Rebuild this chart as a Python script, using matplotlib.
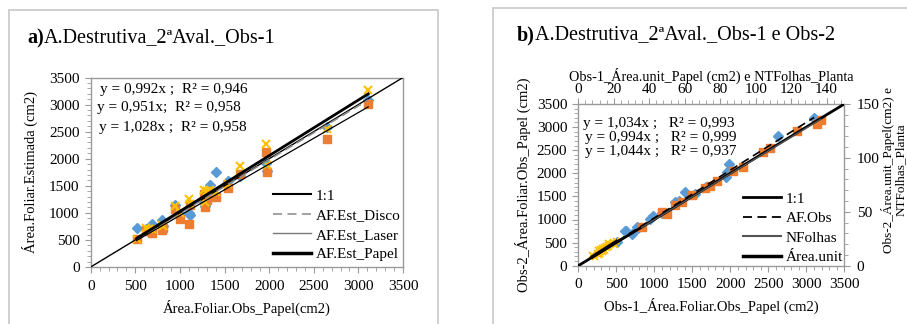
import matplotlib
matplotlib.use("Agg")
import matplotlib.pyplot as plt
from matplotlib.lines import Line2D
from matplotlib.patches import Rectangle
from matplotlib.ticker import MultipleLocator
import numpy as np

plt.rcParams['font.family'] = ['Liberation Serif', 'DejaVu Serif']

# ---------------- Panel a data ----------------
a_obs = [515, 620, 650, 690, 795, 810, 945, 1000, 1105, 1110, 1270, 1285, 1300, 1340, 1400, 1540, 1675, 1965, 1975, 2645, 3110]
a_disco = [726, 700, 640, 790, 860, 760, 1140, 980, 990, 960, 1200, 1130, 1340, 1510, 1760, 1580, 1680, 1920, 1780, 2590, 3090]
a_laser = [517, 690, 660, 620, 690, 720, 1070, 880, 790, 1150, 1340, 1110, 1240, 1300, 1300, 1450, 1710, 2130, 1750, 2360, 3010]
a_papel = [520, 720, 700, 710, 770, 750, 1120, 1000, 1260, 1160, 1430, 1200, 1400, 1420, 1380, 1540, 1870, 2280, 1890, 2540, 3260]
a_slopes = [0.992, 0.951, 1.028]
a_eqs = ["y = 0,992x ;  R² = 0,946", "y = 0,951x;  R² = 0,958", "y = 1,028x ;  R² = 0,958"]
a_labels = ["1:1", "AF.Est_Disco", "AF.Est_Laser", "AF.Est_Papel"]

# ---------------- Panel b data ----------------
b_afobs_x = [515, 615, 628, 702, 768, 790, 943, 987, 1100, 1272, 1330, 1404, 1540, 1675, 1944, 1953, 1987, 2624, 3102]
b_afobs_y = [520, 758, 751, 686, 844, 823, 1005, 1076, 1150, 1386, 1390, 1602, 1560, 1700, 1914, 2035, 2202, 2808, 3191]
b_nf_x = [35.7, 47.0, 49.8, 54.5, 58.3, 63.9, 71.4, 74.3, 78.0, 87.4, 93.0, 104.3, 108.1, 123.2, 134.4, 136.7]
b_nf_y = [36.2, 50.1, 48.0, 56.3, 59.4, 65.6, 72.4, 73.9, 78.9, 87.9, 91.9, 105.8, 108.9, 125.0, 131.5, 135.2]
b_au_x = [8.0, 9.5, 10.5, 11.0, 12.0, 12.5, 13.0, 13.5, 14.0, 14.5, 15.0, 15.5, 16.0, 17.0, 17.5, 18.5, 19.5, 20.5, 21.5, 11.5, 16.5]
b_au_y = [9.5, 8.5, 12.0, 14.5, 11.0, 15.5, 13.0, 16.0, 12.5, 17.5, 14.0, 18.0, 16.5, 19.5, 17.0, 20.5, 22.0, 19.5, 23.0, 10.0, 21.0]
b_slopes = [1.034, 0.994, 1.044]
b_eqs = ["y = 1,034x ;   R² = 0,993", "y = 0,994x ;   R² = 0,999", "y = 1,044x ;   R² = 0,937"]
b_labels = ["1:1", "AF.Obs", "NFolhas", "Área.unit"]

BLUE = "#5B9BD5"
ORANGE = "#ED7D31"
YELLOW = "#FFC000"
SPINE = "#9a9a9a"
FS = 11
LFS = 10.5

W, H = 907, 324
fig = plt.figure(figsize=(W / 100, H / 100), dpi=100)

def fx(px):
    return px / W

def fy(py):
    return 1 - py / H

# panel borders
fig.patches.append(Rectangle((fx(9), fy(340)), fx(438) - fx(9), fy(10) - fy(340),
                             transform=fig.transFigure, fill=False, ec="#c8c8c8", lw=1.2))
fig.patches.append(Rectangle((fx(493), fy(340)), fx(920) - fx(493), fy(8) - fy(340),
                             transform=fig.transFigure, fill=False, ec="#c8c8c8", lw=1.2))

def style_axes(ax, color=SPINE):
    for s in ax.spines.values():
        s.set_color(color)
        s.set_linewidth(1.0)
    ax.tick_params(which='both', direction='out', color=color, labelsize=FS, labelcolor='black', pad=5)
    ax.tick_params(which='major', length=4)
    ax.tick_params(which='minor', length=3)

# ---------------- Panel a ----------------
axa = fig.add_axes([fx(90.7), fy(267), fx(403) - fx(90.7), fy(77.5) - fy(267)])
axa.set_xlim(0, 3500)
axa.set_ylim(0, 3500)
axa.xaxis.set_major_locator(MultipleLocator(500))
axa.yaxis.set_major_locator(MultipleLocator(500))
axa.xaxis.set_minor_locator(MultipleLocator(100))
axa.yaxis.set_minor_locator(MultipleLocator(100))
style_axes(axa)
axa.tick_params(axis='y', pad=4)

axa.plot(a_obs, a_disco, 'D', color=BLUE, ms=5, mec=BLUE, ls='none', zorder=3)
axa.plot(a_obs, a_laser, 's', color=ORANGE, ms=6, mec=ORANGE, ls='none', zorder=4)
axa.plot(a_obs, a_papel, 'x', color=YELLOW, ms=6, mew=1.5, ls='none', zorder=5)

xa = np.array([min(a_obs), max(a_obs)])
axa.plot([0, 3500], [0, 3500], color='black', lw=1.0, zorder=6)
axa.plot(xa, a_slopes[0] * xa, color='#8c8c8c', lw=1.2, ls=(0, (5, 3)), zorder=7)
axa.plot(xa, a_slopes[1] * xa, color='black', lw=0.9, zorder=7)
axa.plot(xa, a_slopes[2] * xa, color='black', lw=2.0, zorder=8)

for t, yy, xx in zip(a_eqs, [89, 108, 128], [100, 97, 99]):
    fig.text(fx(xx), fy(yy), t, fontsize=11, va='center', ha='left')

handles_a = [Line2D([], [], color='black', lw=1.5),
             Line2D([], [], color='#9a9a9a', lw=1.3, ls=(0, (5, 3))),
             Line2D([], [], color='#7a7a7a', lw=1.0),
             Line2D([], [], color='black', lw=2.5)]
axa.legend(handles_a, a_labels, loc='upper left', bbox_to_anchor=(fx(273), fy(189)),
           bbox_transform=fig.transFigure, frameon=False, fontsize=FS,
           handlelength=2.5, handletextpad=0.3, labelspacing=0.38, borderpad=0, borderaxespad=0)

axa.set_xlabel("Área.Foliar.Obs_Papel(cm2)", fontsize=LFS, labelpad=5)
axa.set_ylabel("Área.Foliar.Estimada (cm2)", fontsize=LFS, labelpad=8)

# ---------------- Panel b ----------------
posb = [fx(578.3), fy(265.7), fx(844.3) - fx(578.3), fy(104) - fy(265.7)]
axb = fig.add_axes(posb)
axb.set_xlim(0, 3500)
axb.set_ylim(0, 3500)
axb.xaxis.set_major_locator(MultipleLocator(500))
axb.yaxis.set_major_locator(MultipleLocator(500))
axb.xaxis.set_minor_locator(MultipleLocator(100))
axb.yaxis.set_minor_locator(MultipleLocator(100))
style_axes(axb)
axb.tick_params(axis='y', pad=4)

axb2 = fig.add_axes(posb, frameon=False)
axb2.set_xlim(0, 150)
axb2.set_ylim(0, 150)
axb2.xaxis.tick_top()
axb2.xaxis.set_label_position('top')
axb2.yaxis.tick_right()
axb2.xaxis.set_major_locator(MultipleLocator(20))
axb2.xaxis.set_minor_locator(MultipleLocator(4))
axb2.yaxis.set_major_locator(MultipleLocator(50))
axb2.yaxis.set_minor_locator(MultipleLocator(10))
axb2.set_xticks([0, 20, 40, 60, 80, 100, 120, 140])
style_axes(axb2)
axb2.tick_params(axis='x', pad=2)
axb2.tick_params(axis='y', pad=5)
axb2.patch.set_visible(False)

axb.plot(b_afobs_x, b_afobs_y, 'D', color=BLUE, ms=5, mec=BLUE, ls='none', zorder=3)
axb2.plot(b_nf_x, b_nf_y, 's', color=ORANGE, ms=6, mec=ORANGE, ls='none', zorder=3)
axb2.plot(b_au_x, b_au_y, 'x', color=YELLOW, ms=5, mew=1.3, ls='none', zorder=4)

xb = np.array([min(b_afobs_x), max(b_afobs_x)])
xn = np.array([min(b_nf_x), max(b_nf_x)])
xu = np.array([min(b_au_x), max(b_au_x)])
axb2.plot([0, 150], [0, 150], color='black', lw=2.0, zorder=5)
axb2.plot(xb / 3500 * 150, b_slopes[0] * xb / 3500 * 150, color='black', lw=1.2, ls=(0, (5, 3)), zorder=6)
axb2.plot(xn, b_slopes[1] * xn, color='#555555', lw=1.0, zorder=6)
axb2.plot(xu, b_slopes[2] * xu, color='black', lw=2.5, zorder=7)

for t, yy, xx in zip(b_eqs, [123, 138, 152], [583, 585, 585]):
    fig.text(fx(xx), fy(yy), t, fontsize=11, va='center', ha='left')

handles_b = [Line2D([], [], color='black', lw=2.0),
             Line2D([], [], color='black', lw=1.3, ls=(0, (5, 3))),
             Line2D([], [], color='#555555', lw=1.5),
             Line2D([], [], color='black', lw=2.5)]
axb2.legend(handles_b, b_labels, loc='upper left', bbox_to_anchor=(fx(743), fy(192)),
            bbox_transform=fig.transFigure, frameon=False, fontsize=FS,
            handlelength=2.5, handletextpad=0.3, labelspacing=0.38, borderpad=0, borderaxespad=0)

axb.set_xlabel("Obs-1_Área.Foliar.Obs_Papel (cm2)", fontsize=LFS, labelpad=5)
axb.set_ylabel("Obs-2_Área.Foliar.Obs_Papel (cm2)", fontsize=LFS, labelpad=4)
axb2.set_xlabel("Obs-1_Área.unit_Papel (cm2) e NTFolhas_Planta", fontsize=10.3, labelpad=1)
fig.text(fx(894), fy(170), "Obs-2_Área.unit_Papel(cm2) e\nNTFolhas_Planta", rotation=90,
         fontsize=9.5, ha='center', va='center', multialignment='center', linespacing=1.0)

# ---------------- Titles ----------------
def bold_title(xpx, ypx, bold, rest):
    r = fig.canvas.get_renderer()
    t1 = fig.text(fx(xpx), fy(ypx), bold, fontsize=14.5, fontweight='bold', va='center', ha='left')
    bb = t1.get_window_extent(renderer=r)
    fig.text(bb.x1 / W, fy(ypx), rest, fontsize=14.5, va='center', ha='left')

bold_title(27, 38, "a)", "A.Destrutiva_2ªAval._Obs-1")
bold_title(517, 35, "b)", "A.Destrutiva_2ªAval._Obs-1 e Obs-2")

fig.savefig("out.png", dpi=100)
